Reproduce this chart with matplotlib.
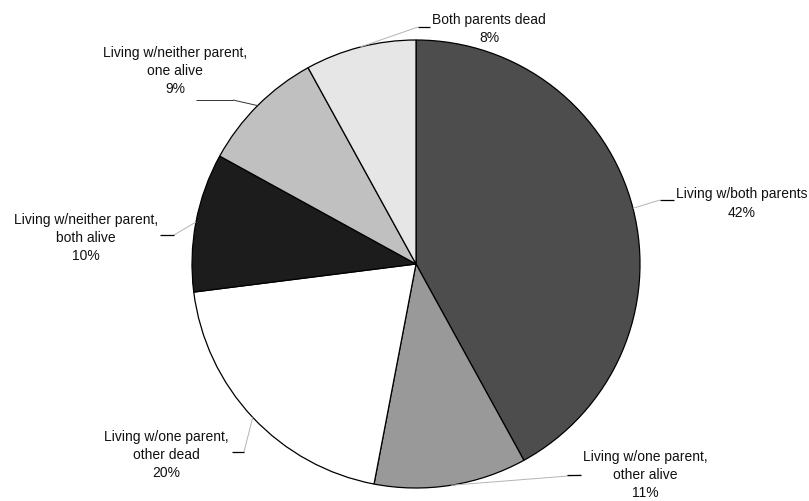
import numpy as np
import matplotlib
matplotlib.use("Agg")
import matplotlib.pyplot as plt

plt.rcParams['font.family'] = ['Liberation Sans', 'DejaVu Sans']

# Living arrangements, clockwise from 12 o'clock
categories = [
    "Living w/both parents",
    "Living w/one parent,\nother alive",
    "Living w/one parent,\nother dead",
    "Living w/neither parent,\nboth alive",
    "Living w/neither parent,\none alive",
    "Both parents dead",
]
shares = [42, 11, 20, 10, 9, 8]
colors = ["#4d4d4d", "#999999", "#ffffff", "#1c1c1c", "#c0c0c0", "#e6e6e6"]

W, H = 809, 502
fig = plt.figure(figsize=(W / 100, H / 100), dpi=100)
ax = fig.add_axes([0, 0, 1, 1])

cx, cy, r = 416, H - 265, 224
wedges, _ = ax.pie(shares, colors=colors, startangle=90, counterclock=False,
                   center=(cx, cy), radius=r, frame=True,
                   wedgeprops=dict(edgecolor='black', linewidth=0.9))
ax.set_xlim(0, W)
ax.set_ylim(0, H)
ax.set_aspect('equal')
ax.axis('off')

# label layout (pixel coordinates from the top-left): text centre, leader tick
layout = [
    dict(tx=742, ty=203.5, tick=(660, 674, 201), tick_at=0),
    dict(tx=645, ty=475, tick=(567, 581, 476), tick_at=1),
    dict(tx=166, ty=455, tick=(232, 244, 453), tick_at=1),
    dict(tx=86, ty=238, tick=(160, 174, 236), tick_at=1),
    dict(tx=175, ty=71, tick=(196, 233, 101), tick_at=1),
    dict(tx=489, ty=29, tick=(418, 430, 28), tick_at=0),
]

for w, name, val, lay in zip(wedges, categories, shares, layout):
    mid = np.deg2rad((w.theta1 + w.theta2) / 2)
    ex, ey = cx + r * np.cos(mid), cy + r * np.sin(mid)
    x0, x1, ty_tick = lay['tick']
    yt = H - ty_tick
    jx = x0 if lay['tick_at'] == 0 else x1
    dark = name.endswith("one alive")
    ax.plot([ex, jx], [ey, yt], color='#333333' if dark else '#b4b4b4',
            lw=0.7, zorder=3, solid_capstyle='butt')
    ax.plot([x0, x1], [yt, yt], color='#333333' if dark else 'black',
            lw=0.9 if not dark else 0.7, zorder=3, solid_capstyle='butt')
    ax.text(lay['tx'], H - lay['ty'], f"{name}\n{val}%", ha='center',
            va='center', fontsize=10, color='#111111', linespacing=1.38,
            zorder=4)

fig.savefig("out.png", dpi=100, facecolor='white')
